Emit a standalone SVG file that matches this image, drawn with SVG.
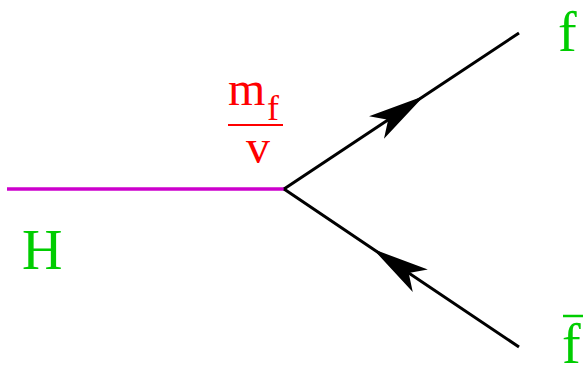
<svg xmlns="http://www.w3.org/2000/svg" width="584" height="366" viewBox="0 0 584 366">
<style>
.fermion{fill:none;stroke:#000;stroke-width:3;marker-mid:url(#arr)}
.green{fill:#00cd00;font-family:"Liberation Serif",serif}
.red{fill:#ff0000;font-family:"Liberation Serif",serif}
</style>
<defs>
<marker id="arr" markerUnits="userSpaceOnUse" markerWidth="80" markerHeight="40" viewBox="-60 -20 80 40" refX="0" refY="0" orient="auto" overflow="visible">
<path d="M0,0 L-57,-13.5 L-43,0 L-57,13.5 Z" fill="#000"/>
</marker>
</defs>
<g id="connectors">
<line id="higgs" x1="7" y1="189" x2="284" y2="189" stroke="#cd00cd" stroke-width="3.5"/>
<path id="f-out" class="fermion" d="M284,189 L424,96 L519,33"/>
<path id="fbar-in" class="fermion" d="M519,347 L373,249 L284,189"/>
</g>
<g id="label-H"><text class="green" x="22" y="269" font-size="56">H</text></g>
<g id="label-f"><text class="green" x="558" y="51" font-size="56">f</text></g>
<g id="label-fbar"><text class="green" x="562" y="363" font-size="56">f</text><line x1="563" y1="316" x2="583" y2="316" stroke="#00cd00" stroke-width="2.5"/></g>
<g id="coupling">
<text class="red" x="228" y="105" font-size="48">m</text>
<text class="red" x="267" y="120" font-size="36">f</text>
<line x1="228" y1="125" x2="283" y2="125" stroke="#ff0000" stroke-width="2"/>
<text class="red" x="246" y="163" font-size="48">v</text>
</g>
</svg>
